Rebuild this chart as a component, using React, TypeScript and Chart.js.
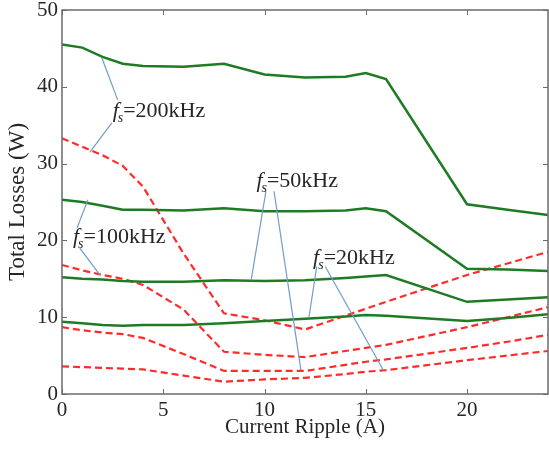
import React, { useEffect, useRef } from "react";
import { Chart, registerables } from "chart.js";

Chart.register(...registerables);

// Current ripple (A)
const xValues = [0, 1, 2, 3, 4, 6, 8, 10, 12, 14, 15, 16, 20, 22, 24];

// Green solid curves (total losses, W)
const green200 = [45.5, 45.1, 43.9, 43.0, 42.7, 42.6, 43.0, 41.6, 41.2, 41.3, 41.8, 41.0, 24.7, 24.0, 23.3];
const green100 = [25.3, 25.0, 24.5, 24.0, 24.0, 23.9, 24.2, 23.8, 23.8, 23.9, 24.2, 23.8, 16.3, 16.2, 16.0];
const green50 = [15.2, 15.0, 14.9, 14.7, 14.6, 14.6, 14.8, 14.7, 14.8, 15.1, 15.3, 15.5, 12.0, 12.3, 12.6];
const green20 = [9.4, 9.2, 9.0, 8.9, 9.0, 9.0, 9.2, 9.5, 9.8, 10.1, 10.3, 10.2, 9.5, 9.9, 10.4];

// Red dashed curves (total losses, W)
const red200 = [33.3, 32.2, 31.1, 29.7, 27.0, 18.3, 10.5, 9.6, 8.4, 10.2, 11.1, 12.0, 15.5, 17.0, 18.5];
const red100 = [16.8, 16.1, 15.5, 15.0, 14.2, 11.0, 5.5, 5.1, 4.8, 5.6, 6.0, 6.4, 8.7, 10.0, 11.3];
const red50 = [8.7, 8.3, 8.0, 7.8, 7.3, 5.2, 3.0, 3.0, 3.0, 3.8, 4.2, 4.5, 6.0, 6.8, 7.7];
const red20 = [3.6, 3.5, 3.4, 3.3, 3.2, 2.4, 1.6, 1.9, 2.1, 2.6, 2.9, 3.1, 4.4, 5.0, 5.6];

// Annotation labels
const labelFreqs = ["200kHz", "50kHz", "100kHz", "20kHz"];
const labelX = [2.5, 9.6, 0.54, 12.4];
const labelY = [36.8, 27.7, 20.4, 17.7];
// leader lines: [x1, y1, x2, y2] in data units
const leaders200 = [[1.97, 43.75, 2.75, 38.3], [2.46, 35.3, 1.38, 31.5]];
const leaders50 = [[10.07, 26.4, 9.34, 14.8], [10.47, 26.4, 11.8, 3.1]];
const leaders100 = [[1.28, 25.3, 0.74, 21.6], [0.88, 19.0, 1.87, 15.5]];
const leaders20 = [[12.58, 16.6, 12.19, 9.9], [13.0, 16.6, 15.87, 3.1]];
const leaderSets = [leaders200, leaders50, leaders100, leaders20];

const GREEN = "#1e7b24";
const RED = "#ff2a2a";
const LEADER = "#6f9ccc";
const AXIS = "#6a6a6a";
const TEXT = "#262626";
const FONT = "'Liberation Serif', 'Times New Roman', serif";

const toPts = (ys: number[]) => ys.map((y, i) => ({ x: xValues[i], y }));

const framePlugin = {
  id: "frameAndNotes",
  afterDatasetsDraw(chart: any) {
    const { ctx, chartArea: a, scales } = chart;
    const xs = scales.x;
    const ys = scales.y;
    ctx.save();
    // leader lines
    ctx.strokeStyle = LEADER;
    ctx.lineWidth = 1.2;
    leaderSets.forEach((set) => {
      set.forEach(([x1, y1, x2, y2]) => {
        ctx.beginPath();
        ctx.moveTo(xs.getPixelForValue(x1), ys.getPixelForValue(y1));
        ctx.lineTo(xs.getPixelForValue(x2), ys.getPixelForValue(y2));
        ctx.stroke();
      });
    });
    // labels
    ctx.fillStyle = TEXT;
    ctx.textBaseline = "middle";
    ctx.textAlign = "left";
    labelFreqs.forEach((freq, i) => {
      let px = xs.getPixelForValue(labelX[i]);
      const py = ys.getPixelForValue(labelY[i]);
      ctx.font = `italic 22px ${FONT}`;
      ctx.fillText("f", px, py);
      px += ctx.measureText("f").width;
      ctx.font = `italic 14px ${FONT}`;
      ctx.fillText("s", px - 1, py + 7);
      px += ctx.measureText("s").width - 1;
      ctx.font = `22px ${FONT}`;
      ctx.fillText("=" + freq, px, py);
    });
    // frame
    ctx.strokeStyle = AXIS;
    ctx.lineWidth = 1.5;
    ctx.strokeRect(a.left, a.top, a.right - a.left, a.bottom - a.top);
    // inward ticks
    const tl = 5;
    ctx.lineWidth = 1;
    xs.ticks.forEach((t: any) => {
      const p = Math.round(xs.getPixelForValue(t.value)) + 0.5;
      ctx.beginPath();
      ctx.moveTo(p, a.bottom);
      ctx.lineTo(p, a.bottom - tl);
      ctx.moveTo(p, a.top);
      ctx.lineTo(p, a.top + tl);
      ctx.stroke();
    });
    ys.ticks.forEach((t: any) => {
      const p = Math.round(ys.getPixelForValue(t.value)) + 0.5;
      ctx.beginPath();
      ctx.moveTo(a.left, p);
      ctx.lineTo(a.left + tl, p);
      ctx.moveTo(a.right, p);
      ctx.lineTo(a.right - tl, p);
      ctx.stroke();
    });
    ctx.restore();
  },
};

const zeroPad = (s: any) => {
  s.paddingTop = 0;
  s.paddingBottom = 0;
  s.paddingLeft = 0;
  s.paddingRight = 0;
};

export default function App() {
  const ref = useRef<HTMLCanvasElement | null>(null);
  useEffect(() => {
    if (!ref.current) return;
    const green = (d: number[]) => ({
      data: toPts(d),
      borderColor: GREEN,
      borderWidth: 2.5,
      pointRadius: 0,
      fill: false,
      tension: 0,
    });
    const red = (d: number[]) => ({
      data: toPts(d),
      borderColor: RED,
      borderWidth: 2.2,
      borderDash: [7, 4],
      pointRadius: 0,
      fill: false,
      tension: 0,
    });
    const chart = new Chart(ref.current, {
      type: "line",
      data: {
        datasets: [
          green(green200), green(green100), green(green50), green(green20),
          red(red200), red(red100), red(red50), red(red20),
        ] as any,
      },
      options: {
        animation: false,
        responsive: false,
        parsing: false as any,
        layout: { padding: { top: 10, right: 1, left: 0, bottom: 0 } },
        plugins: { legend: { display: false }, tooltip: { enabled: false } },
        scales: {
          x: {
            type: "linear",
            min: 0,
            max: 24,
            grid: { display: false, drawTicks: false },
            border: { display: false },
            ticks: {
              stepSize: 5,
              includeBounds: false,
              autoSkip: false,
              maxRotation: 0,
              padding: 4,
              color: TEXT,
              font: { family: FONT, size: 21 },
            },
            title: {
              display: true,
              text: "Current Ripple (A)",
              color: TEXT,
              font: { family: FONT, size: 21 },
              padding: { top: 0, bottom: 11 },
            },
            afterFit: (s: any) => { s.height = 57; zeroPad(s); },
          },
          y: {
            type: "linear",
            min: 0,
            max: 50,
            grid: { display: false, drawTicks: false },
            border: { display: false },
            ticks: {
              stepSize: 10,
              padding: 4,
              color: TEXT,
              font: { family: FONT, size: 21 },
            },
            title: {
              display: true,
              text: "Total Losses (W)",
              color: TEXT,
              font: { family: FONT, size: 23 },
              padding: { top: 4, bottom: 0 },
            },
            afterFit: (s: any) => { s.width = 62; zeroPad(s); },
          },
        },
      },
      plugins: [framePlugin],
    });
    return () => chart.destroy();
  }, []);
  return (
    <div style={{ position: "absolute", left: 0, top: 0, width: 549, height: 451, background: "#fff" }}>
      <canvas ref={ref} width={549} height={451} />
    </div>
  );
}
